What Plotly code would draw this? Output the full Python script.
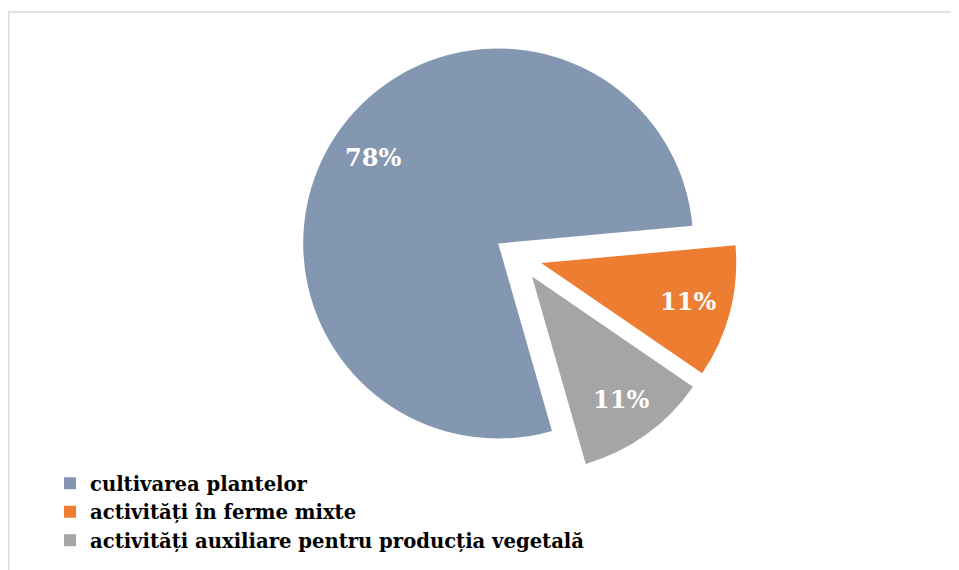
import numpy as np
import plotly.graph_objects as go

labels = ['cultivarea plantelor', 'activități în ferme mixte',
          'activități auxiliare pentru producția vegetală']
values = [78, 11, 11]
colors = ['#8497B0', '#ED7D31', '#A5A5A5']

W, H = 951, 562          # page body has an 8px margin
rotation = 164
pull = 0.123
dom_x = [210 / W, 810 / W]
dom_y = [1 - 468 / H, 1 - 30 / H]

fig = go.Figure()

fig.add_trace(go.Pie(
    labels=labels,
    values=values,
    sort=False,
    direction='clockwise',
    rotation=rotation,
    pull=[pull] * len(values),
    marker=dict(colors=colors, line=dict(width=0)),
    textinfo='none',
    domain=dict(x=dom_x, y=dom_y),
    hoverinfo='label+percent',
))

# percentage labels placed like Excel: on the slice mid-angle, ~0.78 r from the slice tip
cx = (dom_x[0] + dom_x[1]) / 2 * W
cy = (1 - (dom_y[0] + dom_y[1]) / 2) * H
r = min((dom_x[1] - dom_x[0]) * W, (dom_y[1] - dom_y[0]) * H) / 2 / (1 + pull)
total = sum(values)
start = rotation
for v in values:
    mid = np.deg2rad(start + v / total * 180)   # clockwise from 12 o'clock
    dx, dy = np.sin(mid), -np.cos(mid)
    dist = pull * r + 0.78 * r
    px, py = cx + dist * dx, cy + dist * dy
    fig.add_annotation(
        x=px / W, y=1 - py / H, xref='paper', yref='paper',
        xanchor='center', yanchor='middle',
        text=f'{round(v / total * 100)}%', showarrow=False,
        font=dict(family='DejaVu Serif', size=24, color='white', weight='bold'),
    )
    start += v / total * 360

# left/top frame of the original cropped chart area
fig.add_shape(type='line', xref='paper', yref='paper', x0=0.6 / W, x1=0.6 / W, y0=0, y1=1 - 4 / H,
              line=dict(color='#D9D9D9', width=1.5))
fig.add_shape(type='line', xref='paper', yref='paper', x0=0, x1=1, y0=1 - 4 / H, y1=1 - 4 / H,
              line=dict(color='#D9D9D9', width=1.5))

fig.update_layout(
    width=W,
    height=H,
    margin=dict(l=0, r=0, t=0, b=0),
    paper_bgcolor='white',
    plot_bgcolor='white',
    showlegend=True,
    legend=dict(
        x=42 / W, y=1 - 456 / H, xanchor='left', yanchor='top',
        font=dict(family='DejaVu Serif', size=19.6, color='black', weight='bold'),
        bgcolor='rgba(0,0,0,0)',
        itemwidth=30,
    ),
)

fig.write_html("out.html")
